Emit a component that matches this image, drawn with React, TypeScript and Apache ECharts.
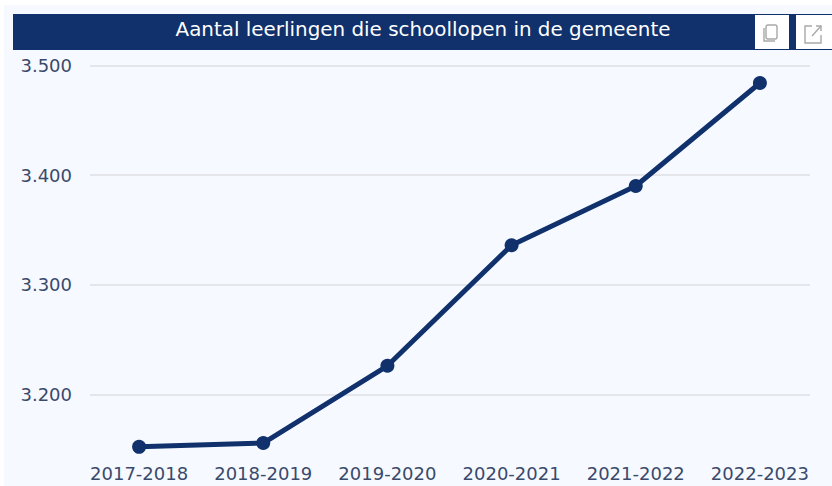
import React, { useEffect, useRef } from "react";
import * as echarts from "echarts";

const titleText = "Aantal leerlingen die schoollopen in de gemeente";
const categories = ["2017-2018", "2018-2019", "2019-2020", "2020-2021", "2021-2022", "2022-2023"];
const values = [3152, 3155.5, 3226, 3336, 3390, 3484];
const yTicks = [3200, 3300, 3400, 3500];
const yMin = 3140;
const yMax = 3500;
const navy = "#10316b";
const fontFamily = "'DejaVu Sans', sans-serif";

const fmt = (v: number) => String(v).replace(/(\d)(\d{3})$/, "$1.$2");

export default function App() {
  const ref = useRef<HTMLDivElement>(null);
  useEffect(() => {
    document.body.style.margin = "0";
    const chart = echarts.init(ref.current!, undefined, { renderer: "svg" });
    const iconStroke = { stroke: "#a9a9a9", lineWidth: 1.4, fill: "none" };
    chart.setOption({
      animation: false,
      backgroundColor: "#f6f9ff",
      grid: [
        { left: 90, right: 22, top: 65.5, bottom: 26 },
        { left: 77, right: 10, top: 65.5, bottom: 26 },
      ],
      xAxis: [
        { gridIndex: 0, type: "category", data: categories, show: false },
        {
          gridIndex: 1,
          type: "category",
          data: categories,
          axisLine: { show: false },
          axisTick: { show: false },
          axisLabel: { color: "#3a4a6b", fontSize: 18, fontFamily, margin: 4, interval: 0 },
        },
      ],
      yAxis: [
        {
          gridIndex: 0,
          type: "value",
          min: yMin,
          max: yMax,
          axisLine: { show: false },
          axisTick: { show: false, customValues: yTicks },
          axisLabel: {
            color: "#3a4a6b",
            fontSize: 18,
            fontFamily,
            margin: 18,
            customValues: yTicks,
            formatter: (v: number) => fmt(v),
          },
          splitLine: { show: true, lineStyle: { color: "#dedfe3", width: 1.5 } },
        },
        { gridIndex: 1, type: "value", min: yMin, max: yMax, show: false },
      ],
      series: [
        {
          type: "line",
          xAxisIndex: 1,
          yAxisIndex: 1,
          data: values,
          symbol: "circle",
          symbolSize: 14,
          lineStyle: { color: navy, width: 5 },
          itemStyle: { color: navy },
        },
      ],
      graphic: [
        { type: "rect", shape: { x: 0, y: 0, width: 832, height: 5 }, style: { fill: "#ffffff" } },
        { type: "rect", shape: { x: 0, y: 0, width: 4, height: 486 }, style: { fill: "#ffffff" } },
        { type: "rect", shape: { x: 13, y: 14, width: 819, height: 36 }, style: { fill: navy } },
        {
          type: "text",
          x: 423,
          y: 29,
          style: {
            text: titleText,
            fill: "#ffffff",
            fontSize: 19.9,
            fontFamily,
            align: "center",
            verticalAlign: "middle",
          },
        },
        { type: "rect", shape: { x: 755, y: 15, width: 34, height: 34 }, style: { fill: "#ffffff" } },
        { type: "rect", shape: { x: 796, y: 15, width: 36, height: 34 }, style: { fill: "#ffffff" } },
        { type: "rect", shape: { x: 766, y: 25, width: 11, height: 14, r: 2 }, style: iconStroke },
        { type: "polyline", shape: { points: [[764, 28], [764, 41], [775, 41]] }, style: iconStroke },
        { type: "polyline", shape: { points: [[812, 26], [805, 26], [805, 43], [821, 43], [821, 35]] }, style: iconStroke },
        { type: "polyline", shape: { points: [[812, 36], [821, 26]] }, style: iconStroke },
        { type: "polyline", shape: { points: [[816, 26], [821, 26], [821, 31]] }, style: iconStroke },
      ],
    });
    return () => chart.dispose();
  }, []);
  return <div ref={ref} style={{ width: 832, height: 486 }} />;
}
